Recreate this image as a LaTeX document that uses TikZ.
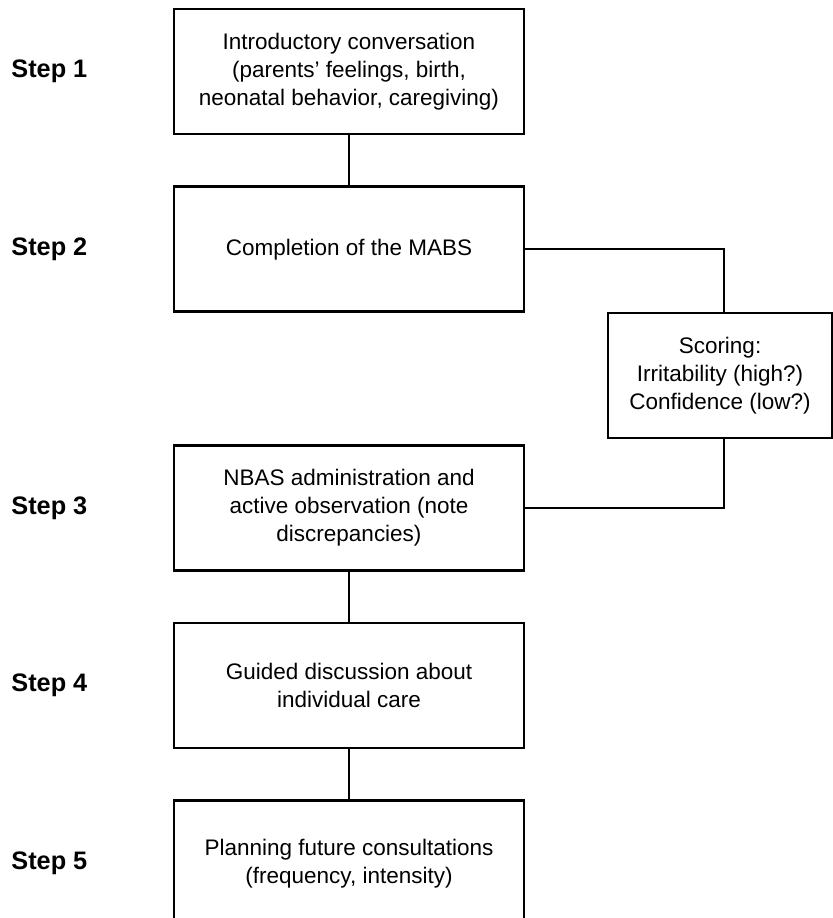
\documentclass[tikz,border=0pt]{standalone}
\usepackage{fontspec}
\setsansfont{Liberation Sans}
\usetikzlibrary{positioning}

\begin{document}
\begin{tikzpicture}[
    font=\sffamily\fontsize{16}{19.9}\selectfont,
    line width=1.9pt,
    node distance=1.25cm,
    stepbox/.style={
      rectangle,
      draw,
      align=center,
      minimum width=8.75cm,
      minimum height=3.125cm
    },
    scorebox/.style={
      rectangle,
      draw,
      align=center,
      minimum width=5.6cm,
      minimum height=3.125cm
    },
    steplabel/.style={
      inner sep=0pt,
      font=\sffamily\bfseries\fontsize{18}{20}\selectfont
    },
    link/.style={
      line width=1.5pt
    }
]
\useasboundingbox (0,0) rectangle (20.8,-22.95);

% 1. NODES
\node[stepbox] (intro) at (8.725,-1.79) {Introductory conversation\\(parents' feelings, birth,\\neonatal behavior, caregiving)};
\node[stepbox, below=of intro] (mabs) {Completion of the MABS};
\node[stepbox, below=3.275cm of mabs] (nbas) {NBAS administration and\\active observation (note\\discrepancies)};
\node[stepbox, below=of nbas] (guided) {Guided discussion about\\individual care};
\node[stepbox, below=of guided] (planning) {Planning future consultations\\(frequency, intensity)};

\node[scorebox] (scoring) at (18.0,-9.39) {Scoring:\\Irritability (high?)\\Confidence (low?)};

% step labels on the left
\node[steplabel, left=2.1cm of intro] (label1) {Step 1};
\node[steplabel, left=2.1cm of mabs] (label2) {Step 2};
\node[steplabel, left=2.1cm of nbas] (label3) {Step 3};
\node[steplabel, left=2.1cm of guided] (label4) {Step 4};
\node[steplabel, left=2.1cm of planning] (label5) {Step 5};

% 2. CONNECTORS
\draw[link] (intro) -- (mabs);
\draw[link] (mabs.east) -| ([xshift=0.1cm]scoring.north);
\draw[link] ([xshift=0.1cm]scoring.south) |- (nbas.east);
\draw[link] (nbas) -- (guided);
\draw[link] (guided) -- (planning);

\end{tikzpicture}
\end{document}
